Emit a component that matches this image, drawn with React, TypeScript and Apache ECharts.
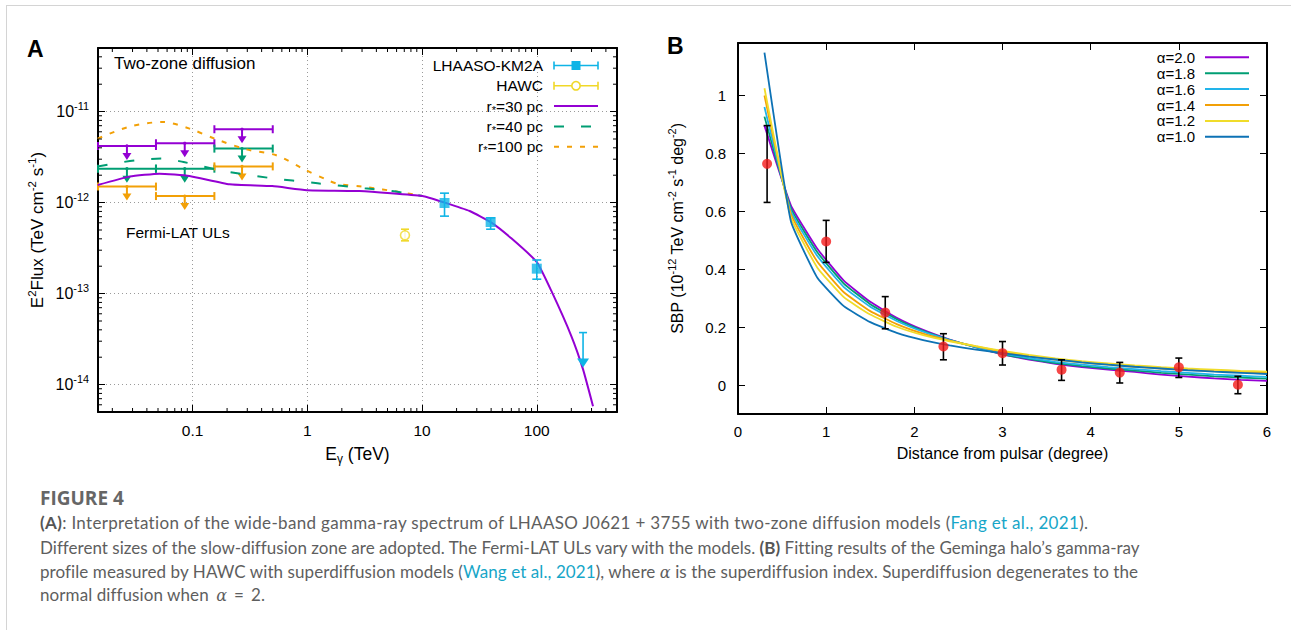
import React, { useEffect, useRef } from "react";
import * as echarts from "echarts";

// ---------------- Panel A data ----------------
const A_X_TICKS = [0.1, 1, 10, 100];
const A_Y_TICKS = [1e-14, 1e-13, 1e-12, 1e-11];

const FERMI_BIN_LO = [0.015, 0.048, 0.155];
const FERMI_BIN_HI = [0.048, 0.155, 0.5];
const FERMI_BIN_C = [0.0268, 0.0855, 0.27];
const FERMI_UL_30 = [4.19e-12, 4.49e-12, 6.4e-12];
const FERMI_UL_40 = [2.36e-12, 2.36e-12, 3.92e-12];
const FERMI_UL_100 = [1.5e-12, 1.18e-12, 2.5e-12];

const LHAASO_E = [15.7, 39.6, 100];
const LHAASO_F = [0.99e-12, 6.12e-13, 1.88e-13];
const LHAASO_LO = [7.1e-13, 5.1e-13, 1.44e-13];
const LHAASO_HI = [1.27e-12, 6.8e-13, 2.34e-13];
const LHAASO_UL_E = [253];
const LHAASO_UL_F = [3.73e-14];

const HAWC_E = [7.1];
const HAWC_F = [4.37e-13];
const HAWC_LO = [3.8e-13];
const HAWC_HI = [5.1e-13];

const MODEL30_E = [0.0149, 0.0283, 0.0515, 0.094, 0.21, 0.495, 0.99, 2.86, 10.07, 15.7, 26, 40.2, 60, 100, 134, 200, 253, 309];
const MODEL30_F = [1.56e-12, 1.93e-12, 2.08e-12, 1.96e-12, 1.59e-12, 1.52e-12, 1.37e-12, 1.34e-12, 1.18e-12, 1.0e-12, 8.08e-13, 6.03e-13, 4.05e-13, 2.22e-13, 1.07e-13, 3.42e-14, 1.47e-14, 5.8e-15];
const MODEL40_E = [0.0149, 0.0318, 0.0547, 0.0835, 0.19, 0.45, 1.23, 3.17, 5.43, 10.07];
const MODEL40_F = [2.5e-12, 2.92e-12, 3.05e-12, 2.79e-12, 2.22e-12, 1.88e-12, 1.63e-12, 1.44e-12, 1.34e-12, 1.18e-12];
const MODEL100_E = [0.0149, 0.0283, 0.0551, 0.0942, 0.161, 0.294, 0.537, 0.916, 1.56, 1.91, 3.03, 6.78, 10.07];
const MODEL100_F = [5.05e-12, 6.84e-12, 7.69e-12, 6.5e-12, 4.96e-12, 3.85e-12, 3.31e-12, 2.36e-12, 1.73e-12, 1.59e-12, 1.5e-12, 1.29e-12, 1.18e-12];

// ---------------- Panel B data ----------------
const B_Y_TICKS = [0, 0.2, 0.4, 0.6, 0.8, 1];
const HAWC_DIST = [0.33, 1.0, 1.67, 2.33, 3.0, 3.67, 4.33, 5.0, 5.67];
const HAWC_SBP = [0.763, 0.495, 0.25, 0.133, 0.11, 0.053, 0.043, 0.061, 0.001];
const HAWC_SBP_LO = [0.63, 0.423, 0.194, 0.087, 0.069, 0.016, 0.007, 0.026, -0.03];
const HAWC_SBP_HI = [0.895, 0.568, 0.305, 0.177, 0.15, 0.087, 0.078, 0.093, 0.03];

const MODEL_R = [0.3, 0.6, 0.9, 1.2, 1.5, 1.8, 2.1, 2.4, 2.7, 3.0, 3.3, 3.6, 3.9, 4.2, 4.5, 4.8, 5.1, 5.4, 5.7, 6.0];
const SBP_A20 = [0.895, 0.62, 0.47, 0.36, 0.287, 0.232, 0.19, 0.157, 0.13, 0.106, 0.088, 0.073, 0.062, 0.053, 0.045, 0.036, 0.029, 0.023, 0.018, 0.014];
const SBP_A18 = [0.926, 0.61, 0.458, 0.35, 0.279, 0.227, 0.187, 0.156, 0.13, 0.107, 0.09, 0.076, 0.065, 0.057, 0.05, 0.042, 0.036, 0.03, 0.026, 0.022];
const SBP_A16 = [0.959, 0.6, 0.445, 0.338, 0.27, 0.221, 0.184, 0.155, 0.131, 0.109, 0.093, 0.08, 0.07, 0.062, 0.055, 0.048, 0.042, 0.036, 0.032, 0.028];
const SBP_A14 = [0.999, 0.59, 0.425, 0.32, 0.255, 0.21, 0.177, 0.153, 0.133, 0.115, 0.1, 0.088, 0.078, 0.07, 0.063, 0.057, 0.052, 0.048, 0.045, 0.042];
const SBP_A12 = [1.024, 0.578, 0.405, 0.303, 0.243, 0.201, 0.172, 0.151, 0.134, 0.118, 0.104, 0.092, 0.082, 0.075, 0.068, 0.062, 0.057, 0.053, 0.049, 0.046];
const SBP_A10 = [1.147, 0.565, 0.37, 0.272, 0.217, 0.18, 0.155, 0.137, 0.122, 0.11, 0.098, 0.088, 0.078, 0.07, 0.063, 0.057, 0.051, 0.046, 0.042, 0.038];
const ALPHA_LABELS = ["α=2.0", "α=1.8", "α=1.6", "α=1.4", "α=1.2", "α=1.0"];

// ---------------- styles ----------------
const FONT = "'Liberation Sans', Arial, Helvetica, sans-serif";
const C_PURPLE = "#9400d3";
const C_GREEN = "#009e73";
const C_CYAN = "#22b4ea";
const C_ORANGE = "#f2a007";
const C_YELLOW = "#f0dc2a";
const C_BLUE = "#0d72b5";
const C_LHAASO = "#0fb4e6";
const C_HAWC = "#f0d828";
const C_RED = "#f41a1a";
const ALPHA_COLORS = [C_PURPLE, C_GREEN, C_CYAN, C_ORANGE, C_YELLOW, C_BLUE];
const ALPHA_SERIES = [SBP_A20, SBP_A18, SBP_A16, SBP_A14, SBP_A12, SBP_A10];

const A_XMIN = 0.015, A_XMAX = 500, A_YMIN = 5e-15, A_YMAX = 5e-11;

const richText = (size: number) => ({
  n: { fontSize: size, fontFamily: FONT, color: "#000", lineHeight: 22, verticalAlign: "middle" },
  sup: { fontSize: size * 0.68, fontFamily: FONT, color: "#000", lineHeight: 9, verticalAlign: "top" },
  sub: { fontSize: size * 0.68, fontFamily: FONT, color: "#000", lineHeight: 14, verticalAlign: "bottom" },
});

const zip = (a: number[], b: number[]) => a.map((v, i) => [v, b[i]]);

const isDecade = (v: number) => Math.abs(Math.log10(v) - Math.round(Math.log10(v))) < 1e-6;

function ulRender(color: string) {
  return (params: any, api: any) => {
    const y = api.value(3);
    const lo = api.coord([api.value(0), y]);
    const hi = api.coord([api.value(1), y]);
    const c = api.coord([api.value(2), y]);
    const cs = params.coordSys;
    const st = { stroke: color, lineWidth: 2 };
    return {
      type: "group",
      children: [
        { type: "line", shape: { x1: Math.max(lo[0], cs.x), y1: lo[1], x2: hi[0], y2: hi[1] }, style: st },
        { type: "line", shape: { x1: lo[0], y1: lo[1] - 4, x2: lo[0], y2: lo[1] + 4 }, style: st },
        { type: "line", shape: { x1: hi[0], y1: hi[1] - 4, x2: hi[0], y2: hi[1] + 4 }, style: st },
        { type: "line", shape: { x1: c[0], y1: c[1], x2: c[0], y2: c[1] + 8 }, style: st },
        { type: "polygon", shape: { points: [[c[0] - 4.5, c[1] + 7], [c[0] + 4.5, c[1] + 7], [c[0], c[1] + 14]] }, style: { fill: color } },
        { type: "circle", shape: { cx: c[0], cy: c[1], r: 1.6 }, style: { fill: color } },
      ],
    };
  };
}

function vErrRender(color: string, cap: number, width: number) {
  return (params: any, api: any) => {
    const x = api.value(0);
    const top = api.coord([x, api.value(2)]);
    const bot = api.coord([x, api.value(1)]);
    const st = { stroke: color, lineWidth: width };
    return {
      type: "group",
      children: [
        { type: "line", shape: { x1: top[0], y1: top[1], x2: bot[0], y2: bot[1] }, style: st },
        { type: "line", shape: { x1: top[0] - cap, y1: top[1], x2: top[0] + cap, y2: top[1] }, style: st },
        { type: "line", shape: { x1: bot[0] - cap, y1: bot[1], x2: bot[0] + cap, y2: bot[1] }, style: st },
      ],
    };
  };
}

function lhaasoUlRender(params: any, api: any) {
  const p = api.coord([api.value(0), api.value(1)]);
  const st = { stroke: C_LHAASO, lineWidth: 1.6 };
  return {
    type: "group",
    children: [
      { type: "line", shape: { x1: p[0] - 4, y1: p[1], x2: p[0] + 4, y2: p[1] }, style: st },
      { type: "line", shape: { x1: p[0], y1: p[1], x2: p[0], y2: p[1] + 28 }, style: st },
      { type: "polygon", shape: { points: [[p[0] - 6, p[1] + 26], [p[0] + 6, p[1] + 26], [p[0], p[1] + 35]] }, style: { fill: C_LHAASO } },
    ],
  };
}

function minorTicksA(params: any, api: any) {
  const cs = params.coordSys;
  const children: any[] = [];
  const st = { stroke: "#000", lineWidth: 1 };
  for (let k = -2; k <= 2; k++) {
    for (let m = 2; m <= 9; m++) {
      const v = m * Math.pow(10, k);
      if (v <= A_XMIN || v >= A_XMAX) continue;
      const px = api.coord([v, 1e-12])[0];
      children.push({ type: "line", shape: { x1: px, y1: cs.y + cs.height, x2: px, y2: cs.y + cs.height - 4 }, style: st });
      children.push({ type: "line", shape: { x1: px, y1: cs.y, x2: px, y2: cs.y + 4 }, style: st });
    }
  }
  for (let k = -15; k <= -11; k++) {
    for (let m = 2; m <= 9; m++) {
      const v = m * Math.pow(10, k);
      if (v <= A_YMIN || v >= A_YMAX) continue;
      const py = api.coord([1, v])[1];
      children.push({ type: "line", shape: { x1: cs.x, y1: py, x2: cs.x + 4, y2: py }, style: st });
      children.push({ type: "line", shape: { x1: cs.x + cs.width, y1: py, x2: cs.x + cs.width - 4, y2: py }, style: st });
    }
  }
  return { type: "group", children };
}

function buildOption(): any {
  const axisLine = { show: true, onZero: false, lineStyle: { color: "#000", width: 2 } };
  const tickIn = { show: true, inside: true, length: 7, lineStyle: { color: "#000", width: 1 } };
  const dotted = { show: true, lineStyle: { color: "#9a9a9a", width: 1, type: [1, 3] } };
  const lblA = { fontSize: 15.5, fontFamily: FONT, color: "#000" };

  const legendA: any[] = [];
  const rowsA = [65.5, 85.8, 106.1, 126.4, 146.7];
  const legTextA = ["LHAASO-KM2A", "HAWC", "{n|r}{s|*}{n|=30 pc}", "{n|r}{s|*}{n|=40 pc}", "{n|r}{s|*}{n|=100 pc}"];
  legTextA.forEach((t, i) => {
    legendA.push({
      type: "text", x: 543, y: rowsA[i],
      style: {
        text: t, align: "right", verticalAlign: "middle", fontSize: 15.5, fontFamily: FONT, fill: "#000",
        rich: {
          n: { fontSize: 15.5, fontFamily: FONT, fill: "#000", lineHeight: 18, verticalAlign: "middle" },
          s: { fontSize: 11, fontFamily: FONT, fill: "#000", lineHeight: 11, verticalAlign: "bottom" },
        },
      },
    });
  });
  const sx0 = 554, sx1 = 598, smid = 576;
  [[C_LHAASO, 0], [C_HAWC, 1]].forEach(([col, i]: any) => {
    const y = rowsA[i];
    legendA.push({ type: "line", shape: { x1: sx0, y1: y, x2: sx1, y2: y }, style: { stroke: col, lineWidth: 1.6 } });
    legendA.push({ type: "line", shape: { x1: sx0, y1: y - 4, x2: sx0, y2: y + 4 }, style: { stroke: col, lineWidth: 1.6 } });
    legendA.push({ type: "line", shape: { x1: sx1, y1: y - 4, x2: sx1, y2: y + 4 }, style: { stroke: col, lineWidth: 1.6 } });
  });
  legendA.push({ type: "rect", shape: { x: smid - 4.5, y: rowsA[0] - 4.5, width: 9, height: 9 }, style: { fill: C_LHAASO } });
  legendA.push({ type: "circle", shape: { cx: smid, cy: rowsA[1], r: 4.2 }, style: { fill: "#fff", stroke: C_HAWC, lineWidth: 1.6 } });
  legendA.push({ type: "line", shape: { x1: sx0, y1: rowsA[2], x2: sx1, y2: rowsA[2] }, style: { stroke: C_PURPLE, lineWidth: 2 } });
  legendA.push({ type: "line", shape: { x1: sx0, y1: rowsA[3], x2: sx1, y2: rowsA[3] }, style: { stroke: C_GREEN, lineWidth: 2, lineDash: [10, 17] } });
  legendA.push({ type: "line", shape: { x1: sx0, y1: rowsA[4], x2: sx1, y2: rowsA[4] }, style: { stroke: C_ORANGE, lineWidth: 2, lineDash: [5, 8] } });

  const legendB: any[] = [];
  ALPHA_LABELS.forEach((t, i) => {
    const y = 57.3 + i * 15.9;
    legendB.push({ type: "text", x: 1195, y, style: { text: t, align: "right", verticalAlign: "middle", fontSize: 15, fontFamily: FONT, fill: "#000" } });
    legendB.push({ type: "line", shape: { x1: 1205, y1: y, x2: 1249, y2: y }, style: { stroke: ALPHA_COLORS[i], lineWidth: 2 } });
  });

  return {
    animation: false,
    backgroundColor: "transparent",
    grid: [
      { left: 98, top: 48, width: 519, height: 364 },
      { left: 738, top: 43, width: 529, height: 371 },
    ],
    xAxis: [
      {
        type: "log", gridIndex: 0, min: A_XMIN, max: A_XMAX, position: "bottom",
        name: "{n|E}{sub|γ}{n| (TeV)}", nameLocation: "middle", nameGap: 31,
        nameTextStyle: { rich: richText(17.5) },
        axisLine, axisTick: tickIn, splitLine: dotted,
        axisLabel: {
          ...lblA, margin: 10, showMinLabel: false, showMaxLabel: false,
          formatter: (v: number) => {
            if (!isDecade(v)) return "";
            const t = A_X_TICKS.find((x) => Math.abs(Math.log10(x) - Math.log10(v)) < 1e-6);
            return t === undefined ? "" : String(t);
          },
        },
      },
      {
        type: "log", gridIndex: 0, min: A_XMIN, max: A_XMAX, position: "top",
        axisLine, axisTick: tickIn, splitLine: { show: false }, axisLabel: { show: false },
      },
      {
        type: "value", gridIndex: 1, min: 0, max: 6, interval: 1, position: "bottom",
        name: "Distance from pulsar (degree)", nameLocation: "middle", nameGap: 31,
        nameTextStyle: { fontSize: 16, fontFamily: FONT, color: "#000" },
        axisLine, axisTick: tickIn, splitLine: { show: false },
        axisLabel: { fontSize: 15, fontFamily: FONT, color: "#000", margin: 10 },
      },
      {
        type: "value", gridIndex: 1, min: 0, max: 6, interval: 1, position: "top",
        axisLine, axisTick: tickIn, splitLine: { show: false }, axisLabel: { show: false },
      },
    ],
    yAxis: [
      {
        type: "log", gridIndex: 0, min: A_YMIN, max: A_YMAX, position: "left",
        name: "{n|E}{sup|2}{n|Flux (TeV cm}{sup|-2}{n| s}{sup|-1}{n|)}", nameLocation: "middle", nameGap: 50,
        nameTextStyle: { rich: richText(17) },
        axisLine, axisTick: tickIn, splitLine: dotted,
        axisLabel: {
          margin: 9, showMinLabel: false, showMaxLabel: false,
          formatter: (v: number) => {
            if (!isDecade(v)) return "";
            const t = A_Y_TICKS.find((x) => Math.abs(Math.log10(x) - Math.log10(v)) < 1e-6);
            return t === undefined ? "" : "{n|10}{sup|" + Math.round(Math.log10(t)) + "}";
          },
          rich: richText(16),
        },
      },
      {
        type: "log", gridIndex: 0, min: A_YMIN, max: A_YMAX, position: "right",
        axisLine, axisTick: tickIn, splitLine: { show: false }, axisLabel: { show: false },
      },
      {
        type: "value", gridIndex: 1, min: -0.1, max: 1.18, position: "left",
        name: "{n|SBP (10}{sup|-12}{n| TeV cm}{sup|-2}{n| s}{sup|-1}{n| deg}{sup|-2}{n|)}", nameLocation: "middle", nameGap: 50,
        nameTextStyle: { rich: richText(16) },
        axisLine, axisTick: { ...tickIn, customValues: B_Y_TICKS }, splitLine: { show: false },
        axisLabel: { fontSize: 15, fontFamily: FONT, color: "#000", margin: 12, customValues: B_Y_TICKS, formatter: (v: number) => String(v) },
      },
      {
        type: "value", gridIndex: 1, min: -0.1, max: 1.18, position: "right",
        axisLine, axisTick: { ...tickIn, customValues: B_Y_TICKS }, splitLine: { show: false },
        axisLabel: { show: false, customValues: B_Y_TICKS },
      },
    ],
    graphic: [
      { type: "text", x: 27, y: 49, style: { text: "A", fontSize: 23, fontWeight: "bold", fontFamily: FONT, fill: "#000", verticalAlign: "middle" } },
      { type: "text", x: 667, y: 46, style: { text: "B", fontSize: 23, fontWeight: "bold", fontFamily: FONT, fill: "#000", verticalAlign: "middle" } },
      { type: "text", x: 114, y: 63, style: { text: "Two-zone diffusion", fontSize: 17, fontFamily: FONT, fill: "#000", verticalAlign: "middle" } },
      { type: "text", x: 126, y: 232, style: { text: "Fermi-LAT ULs", fontSize: 15.5, fontFamily: FONT, fill: "#000", verticalAlign: "middle" } },
      ...legendA,
      ...legendB,
    ],
    series: [
      // ----- panel A -----
      { type: "line", name: "r*=100 pc", xAxisIndex: 0, yAxisIndex: 0, data: zip(MODEL100_E, MODEL100_F), showSymbol: false, smooth: 0.3, lineStyle: { color: C_ORANGE, width: 2, type: [5, 8] } },
      { type: "line", name: "r*=40 pc", xAxisIndex: 0, yAxisIndex: 0, data: zip(MODEL40_E, MODEL40_F), showSymbol: false, smooth: 0.3, lineStyle: { color: C_GREEN, width: 2, type: [10, 17] } },
      { type: "line", name: "r*=30 pc", xAxisIndex: 0, yAxisIndex: 0, data: zip(MODEL30_E, MODEL30_F), showSymbol: false, smooth: 0.15, lineStyle: { color: C_PURPLE, width: 2 } },
      ...[[FERMI_UL_30, C_PURPLE], [FERMI_UL_40, C_GREEN], [FERMI_UL_100, C_ORANGE]].map(([ul, col]: any) => ({
        type: "custom", xAxisIndex: 0, yAxisIndex: 0, silent: true,
        dimensions: ["lo", "hi", "c", "ul"], encode: { x: 2, y: 3 },
        data: FERMI_BIN_C.map((c, i) => [FERMI_BIN_LO[i], FERMI_BIN_HI[i], c, ul[i]]),
        renderItem: ulRender(col), z: 3,
      })),
      {
        type: "custom", xAxisIndex: 0, yAxisIndex: 0, silent: true, encode: { x: 0, y: 1 },
        data: HAWC_E.map((e, i) => [e, HAWC_LO[i], HAWC_HI[i]]), renderItem: vErrRender(C_HAWC, 4, 1.6), z: 4,
      },
      {
        type: "scatter", xAxisIndex: 0, yAxisIndex: 0, data: zip(HAWC_E, HAWC_F), symbol: "circle", symbolSize: 9,
        itemStyle: { color: "#fff", borderColor: C_HAWC, borderWidth: 1.6 }, z: 5,
      },
      {
        type: "custom", xAxisIndex: 0, yAxisIndex: 0, silent: true, encode: { x: 0, y: 1 },
        data: LHAASO_E.map((e, i) => [e, LHAASO_LO[i], LHAASO_HI[i]]), renderItem: vErrRender(C_LHAASO, 4.5, 1.6), z: 4,
      },
      {
        type: "scatter", xAxisIndex: 0, yAxisIndex: 0, data: zip(LHAASO_E, LHAASO_F), symbol: "rect", symbolSize: 10,
        itemStyle: { color: C_LHAASO }, z: 5,
      },
      {
        type: "custom", xAxisIndex: 0, yAxisIndex: 0, silent: true, encode: { x: 0, y: 1 },
        data: zip(LHAASO_UL_E, LHAASO_UL_F), renderItem: lhaasoUlRender, z: 4,
      },
      {
        type: "custom", xAxisIndex: 0, yAxisIndex: 0, silent: true, encode: { x: 0, y: 1 },
        data: [[1, 1e-12]], renderItem: minorTicksA, z: 6,
      },
      // ----- panel B -----
      ...ALPHA_SERIES.map((s, i) => ({
        type: "line", name: ALPHA_LABELS[i], xAxisIndex: 2, yAxisIndex: 2, data: zip(MODEL_R, s), showSymbol: false,
        smooth: 0.12, lineStyle: { color: ALPHA_COLORS[i], width: 1.8 },
      })),
      {
        type: "custom", xAxisIndex: 2, yAxisIndex: 2, silent: true, encode: { x: 0, y: 1 },
        data: HAWC_DIST.map((d, i) => [d, HAWC_SBP_LO[i], HAWC_SBP_HI[i]]), renderItem: vErrRender("#000", 3.5, 1.6), z: 4,
      },
      {
        type: "scatter", xAxisIndex: 2, yAxisIndex: 2, data: zip(HAWC_DIST, HAWC_SBP), symbol: "circle", symbolSize: 10,
        itemStyle: { color: C_RED }, z: 5,
      },
    ],
  };
}

const CAP_COLOR = "#5e5e5e";
const LINK = "#17a6c8";
const CAP_FONT = "Lato, 'Open Sans', sans-serif";

export default function App() {
  const ref = useRef<HTMLDivElement>(null);
  const capRef = useRef<HTMLDivElement>(null);

  useEffect(() => {
    document.body.style.margin = "0";
    const chart = echarts.init(ref.current as HTMLDivElement, undefined, { renderer: "svg" });
    chart.setOption(buildOption());
    // fit caption lines to their widths in the figure
    const fit = () => {
      if (!capRef.current) return;
      const spans = Array.from(capRef.current.querySelectorAll("[data-w]")) as HTMLElement[];
      let last = 0;
      spans.forEach((el) => {
        el.style.letterSpacing = "0px";
        const w = el.getBoundingClientRect().width;
        const target = Number(el.getAttribute("data-w"));
        const n = (el.textContent || "").length;
        last = (target - w) / n;
        el.style.letterSpacing = last.toFixed(3) + "px";
      });
      const tail = capRef.current.querySelector("[data-tail]") as HTMLElement | null;
      if (tail) tail.style.letterSpacing = last.toFixed(3) + "px";
    };
    fit();
    if ((document as any).fonts && (document as any).fonts.ready) (document as any).fonts.ready.then(fit);
    return () => chart.dispose();
  }, []);

  const line = (top: number): React.CSSProperties => ({
    position: "absolute", left: 40, top, whiteSpace: "nowrap", fontFamily: CAP_FONT, fontSize: 17,
    color: CAP_COLOR, lineHeight: "24px",
  });
  const a: React.CSSProperties = { color: LINK };
  const b: React.CSSProperties = { fontWeight: 700, color: "#555" };
  const al: React.CSSProperties = { fontStyle: "italic", fontFamily: "'DejaVu Serif', serif", fontSize: 16 };
  const eq: React.CSSProperties = { margin: "0 7px" };

  return (
    <div style={{ position: "fixed", left: 0, top: 0, width: 1291, height: 630, background: "#fff", overflow: "hidden" }}>
      <div style={{ position: "absolute", left: 6, top: 5, width: 1300, height: 700, borderTop: "1px solid #d4d4d4", borderLeft: "1px solid #d4d4d4" }} />
      <div ref={ref} style={{ position: "absolute", left: 0, top: 0, width: 1291, height: 470 }} />
      <div ref={capRef}>
        <div style={{ ...line(486), fontSize: 19, fontWeight: 700, color: "#666", fontFamily: "'Open Sans', Lato, sans-serif" }}>FIGURE 4</div>
        <div style={line(511)}>
          <span data-w="1048"><span style={b}>(A)</span>: Interpretation of the wide-band gamma-ray spectrum of LHAASO J0621 + 3755 with two-zone diffusion models (<span style={a}>Fang et al., 2021</span>).</span>
        </div>
        <div style={line(536)}>
          <span data-w="1098">Different sizes of the slow-diffusion zone are adopted. The Fermi-LAT ULs vary with the models. <span style={b}>(B)</span> Fitting results of the Geminga halo’s gamma-ray</span>
        </div>
        <div style={line(560)}>
          <span data-w="1096">profile measured by HAWC with superdiffusion models (<span style={a}>Wang et al., 2021</span>), where <span style={al}>α</span> is the superdiffusion index. Superdiffusion degenerates to the</span>
        </div>
        <div style={line(583)}>
          <span data-tail="1">normal diffusion when <span style={{ ...al, marginLeft: 3 }}>α</span><span style={eq}>=</span>2.</span>
        </div>
      </div>
    </div>
  );
}
